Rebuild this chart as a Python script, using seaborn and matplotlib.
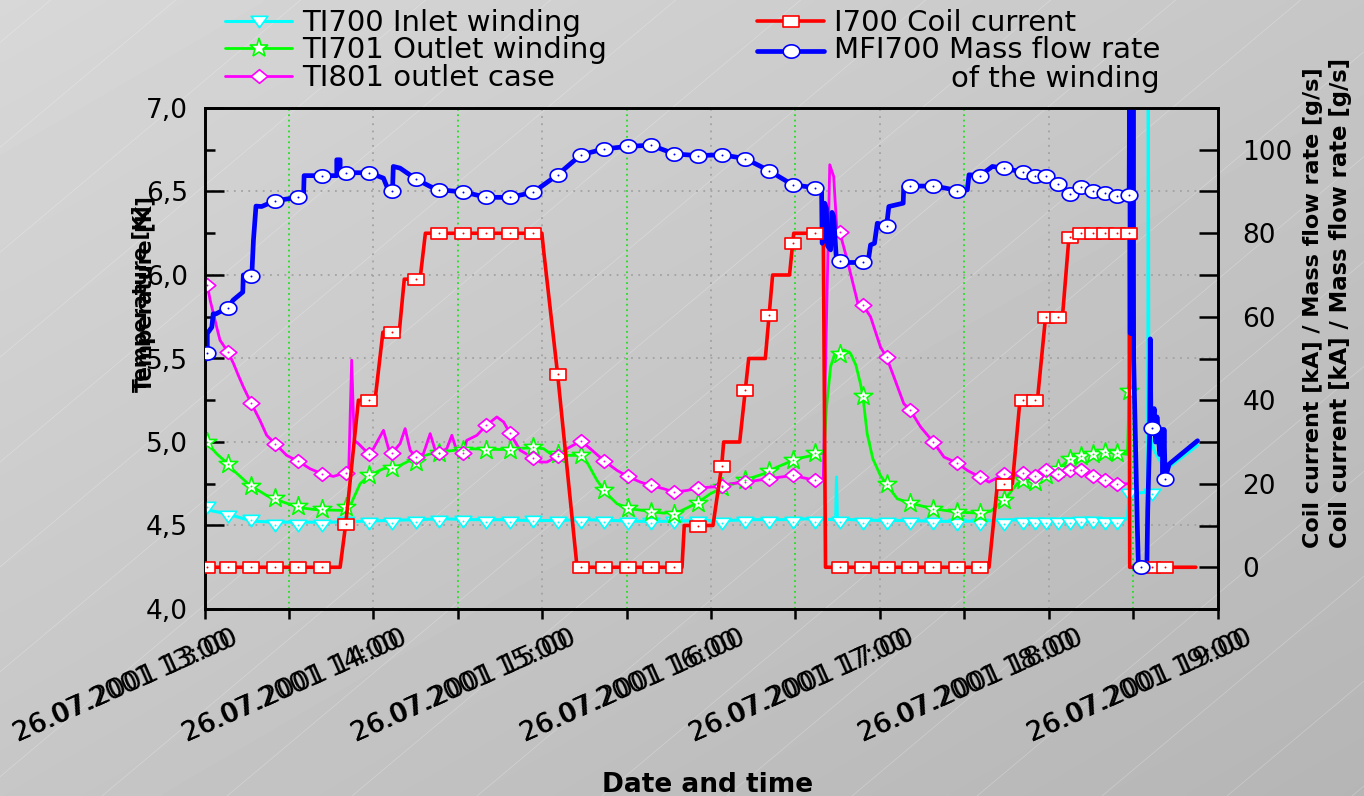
import numpy as np
import matplotlib
matplotlib.use("Agg")
import matplotlib.pyplot as plt
import seaborn as sns
from matplotlib.lines import Line2D
from matplotlib.path import Path
from matplotlib.legend_handler import HandlerLine2D
from matplotlib.transforms import offset_copy

# ---------------------------------------------------------------------------
# Measurements of 26.07.2001, time given in minutes after 13:00
# ---------------------------------------------------------------------------
marker_minutes = [1.0, 8.3, 16.5, 25.1, 33.4, 41.7, 50.2, 58.5, 66.8, 75.1,
                  83.4, 92.0, 100.2, 108.5, 116.8, 125.5, 133.8, 142.1, 150.4, 158.7,
                  167.0, 175.4, 183.8, 192.1, 200.6, 209.0, 217.1, 225.7, 234.0, 242.4,
                  250.7, 259.0, 267.5, 275.6, 284.1, 291.0, 295.0, 299.2, 303.4, 307.6,
                  311.6, 315.8, 320.0, 324.2, 328.6]

# TI700 inlet winding temperature [K]
ti700_line = [(0.2, 4.60), (2.0, 4.59), (5.0, 4.58), (10.0, 4.56), (14.0, 4.54), (18.0, 4.525),
              (25.0, 4.52), (35.0, 4.52), (45.0, 4.52), (55.0, 4.525), (65.0, 4.53), (75.0, 4.535),
              (85.0, 4.54), (95.0, 4.535), (105.0, 4.535), (115.0, 4.53), (125.0, 4.53), (135.0, 4.535),
              (145.0, 4.53), (155.0, 4.525), (165.0, 4.525), (175.0, 4.53), (185.0, 4.53), (195.0, 4.535),
              (205.0, 4.535), (215.0, 4.54), (224.3, 4.535), (224.6, 4.79), (224.9, 4.54), (230.0, 4.535),
              (240.0, 4.53), (250.0, 4.53), (260.0, 4.525), (270.0, 4.525), (280.0, 4.53), (290.0, 4.535),
              (300.0, 4.535), (310.0, 4.54), (320.0, 4.54), (328.0, 4.54), (328.6, 4.69), (335.2, 4.70),
              (335.4, 7.5), (335.6, 5.07), (337.5, 4.95), (341.4, 4.83), (342.8, 4.85), (352.9, 4.98)]
ti700_marks = [4.61, 4.555, 4.53, 4.505, 4.505, 4.505, 4.52, 4.515, 4.515, 4.52,
               4.525, 4.525, 4.52, 4.52, 4.525, 4.52, 4.52, 4.52, 4.515, 4.515,
               4.52, 4.52, 4.515, 4.52, 4.52, 4.52, 4.52, 4.52, 4.515, 4.515,
               4.515, 4.515, 4.51, 4.51, 4.51, 4.515, 4.515, 4.515, 4.515, 4.515,
               4.52, 4.52, 4.515, 4.515, 4.69]
ti700_tail = [(336.9, 4.69)]

# TI701 outlet winding temperature [K]
ti701_line = [(0.2, 5.01), (4.3, 4.93), (8.3, 4.87), (10.3, 4.83), (16.2, 4.74), (22.1, 4.68),
              (28.0, 4.64), (34.0, 4.606), (39.9, 4.594), (50.6, 4.59), (51.8, 4.62), (55.3, 4.75),
              (58.5, 4.80), (63.6, 4.84), (69.5, 4.86), (74.3, 4.90), (81.4, 4.934), (93.2, 4.96),
              (105.0, 4.955), (117.0, 4.966), (120.5, 4.96), (122.9, 4.93), (127.6, 4.92), (133.5, 4.92),
              (135.9, 4.88), (139.5, 4.77), (143.0, 4.69), (146.6, 4.63), (151.3, 4.60), (163.2, 4.574),
              (169.1, 4.586), (175.0, 4.634), (179.8, 4.69), (184.5, 4.73), (191.6, 4.77), (198.8, 4.81),
              (203.5, 4.85), (210.6, 4.90), (218.9, 4.93), (220.1, 4.93), (221.0, 5.20), (222.5, 5.45),
              (224.0, 5.53), (225.7, 5.546), (227.5, 5.55), (229.6, 5.53), (231.5, 5.46), (233.1, 5.35),
              (234.0, 5.27), (235.5, 5.05), (237.5, 4.90), (240.2, 4.80), (242.4, 4.746), (246.2, 4.66),
              (250.7, 4.634), (259.0, 4.60), (267.5, 4.58), (275.6, 4.574), (279.4, 4.586), (284.1, 4.65),
              (288.8, 4.75), (291.0, 4.77), (295.0, 4.76), (299.2, 4.80), (304.3, 4.85), (307.6, 4.90),
              (311.6, 4.914), (315.8, 4.93), (320.0, 4.94), (324.2, 4.934), (328.0, 4.926), (328.6, 5.306),
              (329.0, 7.5)]
ti701_marks = [5.0, 4.87, 4.736, 4.666, 4.614, 4.60, 4.61, 4.80, 4.846, 4.88,
               4.935, 4.955, 4.954, 4.95, 4.97, 4.926, 4.92, 4.714, 4.606, 4.58,
               4.57, 4.634, 4.73, 4.77, 4.826, 4.89, 4.934, 5.526, 5.274, 4.746,
               4.634, 4.60, 4.58, 4.574, 4.65, 4.77, 4.76, 4.80, 4.84, 4.90,
               4.914, 4.93, 4.94, 4.934, 5.306]

# TI801 outlet case temperature [K]
ti801_line = [(0.2, 5.97), (1.0, 5.94), (2.0, 5.85), (4.3, 5.69), (5.5, 5.61), (8.3, 5.54),
              (10.3, 5.47), (12.0, 5.40), (13.8, 5.33), (16.5, 5.236), (19.7, 5.13), (22.1, 5.04),
              (25.1, 4.99), (29.2, 4.92), (33.4, 4.884), (37.5, 4.84), (41.7, 4.81), (45.8, 4.794),
              (50.2, 4.816), (51.2, 4.794), (52.3, 5.49), (53.2, 5.01), (54.7, 4.99), (58.5, 4.926),
              (60.0, 4.96), (63.6, 5.07), (65.4, 4.96), (66.8, 4.936), (69.5, 4.99), (71.3, 5.08),
              (73.1, 4.95), (75.1, 4.91), (77.8, 4.93), (80.2, 5.05), (82.0, 4.95), (83.4, 4.936),
              (86.1, 4.96), (87.9, 5.04), (89.4, 4.96), (92.1, 4.936), (93.2, 5.01), (96.8, 5.04),
              (100.2, 5.10), (103.9, 5.15), (106.3, 5.12), (108.5, 5.054), (112.2, 4.95), (116.8, 4.906),
              (119.3, 4.88), (121.7, 4.88), (125.5, 4.914), (128.8, 4.96), (133.8, 5.006), (137.1, 4.96),
              (142.1, 4.886), (146.6, 4.83), (150.4, 4.794), (154.9, 4.76), (158.7, 4.74), (163.2, 4.72),
              (167.0, 4.70), (171.5, 4.71), (175.4, 4.724), (179.8, 4.73), (183.8, 4.734), (186.9, 4.75),
              (192.1, 4.76), (200.6, 4.78), (209.0, 4.80), (217.1, 4.77), (219.9, 4.77), (220.7, 5.45),
              (222.2, 6.66), (223.6, 6.59), (224.8, 6.25), (225.7, 6.26), (228.4, 6.09), (232.5, 5.81),
              (234.0, 5.82), (236.7, 5.75), (240.2, 5.57), (242.4, 5.506), (245.0, 5.39), (248.5, 5.23),
              (250.7, 5.194), (254.5, 5.09), (259.0, 5.0), (262.8, 4.91), (267.5, 4.874), (271.1, 4.83),
              (275.6, 4.79), (278.8, 4.76), (284.1, 4.806), (286.5, 4.78), (291.0, 4.814), (295.0, 4.794),
              (299.2, 4.83), (303.4, 4.806), (307.6, 4.83), (311.6, 4.83), (315.8, 4.794), (320.0, 4.77),
              (324.2, 4.75), (328.0, 4.75)]
ti801_marks = [5.94, 5.54, 5.236, 4.99, 4.884, 4.81, 4.816, 4.926, 4.936, 4.91,
               4.936, 4.936, 5.10, 5.054, 4.906, 4.914, 5.006, 4.886, 4.794, 4.74,
               4.70, 4.724, 4.734, 4.76, 4.78, 4.80, 4.77, 6.26, 5.82, 5.506,
               5.194, 5.0, 4.874, 4.79, 4.806, 4.814, 4.794, 4.83, 4.806, 4.83,
               4.83, 4.794, 4.77, 4.75, np.nan]

# I700 coil current [kA]
i700_line = [(0.2, 0), (48.2, 0), (50.2, 10.4), (54.7, 40), (60.6, 40), (63.4, 56.3), (69.2, 56.3),
             (71.0, 69), (76.6, 69), (78.5, 80), (119.9, 80), (120.5, 76), (125.5, 46.2), (132.4, 0),
             (169.7, 0), (170.5, 10), (180.7, 10), (183.8, 24.3), (184.5, 30), (190.2, 30), (193.4, 50),
             (199.3, 50), (201.9, 70), (207.9, 70), (209.4, 80), (219.9, 80), (220.7, 0), (278.8, 0),
             (281.8, 20), (287.1, 20), (289.8, 40), (296.0, 40), (298.9, 60), (304.9, 60), (307.2, 79),
             (308.9, 80), (328.6, 80), (328.8, 0), (352.3, 0)]
i700_marks = [0, 0, 0, 0, 0, 0, 10.4, 40, 56.3, 69,
              80, 80, 80, 80, 80, 46.2, 0, 0, 0, 0,
              0, 10, 24.3, 42.5, 60.3, 77.7, 80, 0, 0, 0,
              0, 0, 0, 0, 20, 40, 40, 60, 60, 79,
              80, 80, 80, 80, 80]
i700_tail = [(336.9, 0), (341.3, 0)]

# MFI700 mass flow rate of the winding [g/s]
mfi700_line = [(0.2, 49.5), (1.0, 51.4), (1.0, 56.0), (2.6, 57.5), (3.1, 60.7), (4.1, 60.7), (8.3, 62.2),
               (10.2, 64.0), (13.6, 65.9), (13.8, 70.0), (16.8, 69.8), (17.4, 78.4), (18.3, 86.5),
               (20.3, 86.4), (25.1, 87.8), (33.4, 88.6), (35.2, 88.8), (35.4, 93.8), (41.7, 93.8),
               (47.0, 93.8), (47.0, 97.6), (48.2, 97.6), (48.2, 95.0), (50.2, 94.5), (58.5, 94.5),
               (63.6, 93.2), (64.8, 91.2), (66.8, 90.2), (67.1, 96.0), (69.5, 95.6), (75.1, 93.0),
               (80.2, 91.2), (83.4, 90.4), (92.0, 89.9), (100.2, 88.6), (108.5, 88.6), (116.8, 89.8),
               (125.5, 94.0), (133.8, 98.8), (142.1, 100.2), (150.4, 100.8), (158.7, 101.1), (167.0, 99.0),
               (175.4, 98.6), (183.8, 98.8), (192.1, 97.9), (200.6, 95.0), (209.0, 91.6), (217.1, 90.9),
               (219.3, 90.5), (219.5, 77.6), (220.0, 79.0), (220.4, 87.2), (221.0, 86.0), (221.4, 77.0),
               (222.5, 76.0), (223.0, 85.0), (223.6, 84.0), (224.5, 74.4), (225.7, 73.3), (229.2, 73.0),
               (234.0, 73.0), (236.1, 74.4), (236.7, 77.2), (238.1, 77.6), (239.1, 82.4), (242.4, 81.8),
               (243.2, 86.4), (248.3, 87.2), (248.5, 91.2), (250.7, 91.3), (259.0, 91.3), (263.4, 90.8),
               (267.5, 90.2), (271.1, 90.4), (271.7, 94.0), (275.6, 93.8), (280.0, 96.0), (284.1, 95.6),
               (291.0, 94.6), (295.0, 93.6), (299.2, 93.6), (303.4, 91.8), (307.6, 89.4), (311.6, 91.0),
               (315.8, 90.2), (320.0, 89.6), (324.2, 89.0), (328.6, 89.1), (328.8, 125), (329.0, 56),
               (329.2, 125), (329.4, 56), (329.6, 125), (329.8, 56), (330.0, 125), (330.2, 50),
               (331.5, 10), (331.9, 0), (332.7, 0), (334.9, 0), (335.2, 13.5), (335.9, 31.9),
               (336.1, 54.7), (336.3, 37.5), (336.9, 33.3), (337.5, 38.0), (338.0, 30.0), (338.5, 36.0),
               (339.5, 27.0), (340.2, 33.0), (340.6, 22.0), (341.0, 33.0), (341.4, 21.1), (342.8, 24.7),
               (352.9, 30.3)]
mfi700_marks = [51.4, 62.2, 69.8, 87.8, 88.6, 93.8, 94.5, 94.5, 90.2, 93.0,
                90.4, 89.9, 88.6, 88.6, 89.8, 94.0, 98.8, 100.2, 100.8, 101.1,
                99.0, 98.6, 98.8, 97.9, 95.0, 91.6, 90.9, 73.3, 73.0, 81.8,
                91.3, 91.3, 90.2, 93.8, 95.6, 94.6, 93.6, 93.6, 91.8, 89.4,
                91.0, 90.2, 89.6, 89.0, 89.1]
mfi700_tail = [(332.7, 0), (336.9, 33.3), (341.4, 21.1)]

hour_ticks = [13, 14, 15, 16, 17, 18, 19]
half_hour_ticks = [13.5, 14.5, 15.5, 16.5, 17.5, 18.5]
date_text = "26.07.2001"
temp_ticks = [4.0, 4.5, 5.0, 5.5, 6.0, 6.5, 7.0]
temp_tick_labels = ["4,0", "4,5", "5,0", "5,5", "6,0", "6,5", "7,0"]
temp_minor = [4.25, 4.75, 5.25, 5.75, 6.25, 6.75]
flow_ticks = [0, 20, 40, 60, 80, 100]
flow_minor = [-10, 10, 30, 50, 70, 90, 110]

labels = ["TI700 Inlet winding", "TI701 Outlet winding", "TI801 outlet case",
          "I700 Coil current", "MFI700 Mass flow rate\nof the winding"]
colors = ["#00ffff", "#00ff00", "#ff00ff", "#ff0000", "#0000ff"]


def hours(minutes):
    return 13 + np.asarray(minutes, dtype=float) / 60.0


def unzip(points):
    t, v = zip(*points)
    return hours(t), np.asarray(v, dtype=float)


# marker shapes (slightly wide, as in the original plot software)
_a = np.linspace(0, 2 * np.pi, 41)
m_ellipse = Path(np.column_stack([np.cos(_a), 0.8 * np.sin(_a)]), closed=True)
m_rect = Path([(-1, -0.72), (1, -0.72), (1, 0.72), (-1, 0.72), (-1, -0.72)], closed=True)
m_diamond = Path([(0, -0.82), (1, 0), (0, 0.82), (-1, 0), (0, -0.82)], closed=True)
m_tri = Path([(-1, 0.62), (1, 0.62), (0, -0.75), (-1, 0.62)], closed=True)

# ---------------------------------------------------------------------------
sns.set_theme(style="white")
plt.rcParams["font.family"] = ["DejaVu Sans"]
plt.rcParams["axes.unicode_minus"] = False
plt.rcParams["text.color"] = "black"

W, H, DPI = 1364, 796, 100
fig = plt.figure(figsize=(W / DPI, H / DPI), dpi=DPI)
fig.patch.set_facecolor("#c8c8c8")

# shaded backdrop with faint diagonal hatching
bg = fig.add_axes([0, 0, 1, 1], zorder=0)
gy, gx = np.mgrid[0:1:200j, 0:1:342j]
bg.imshow(0.845 - 0.135 * (gx + gy) / 2, cmap="gray", vmin=0, vmax=1,
          extent=(0, 1, 0, 1), aspect="auto", interpolation="bilinear")
slope = np.tan(np.radians(40)) * W / H
for c in np.arange(-0.75, 1.0, 125 / W):
    bg.plot([c, c + 1.0], [0, slope], color="white", lw=0.5, alpha=0.28)
bg.set_xlim(0, 1)
bg.set_ylim(0, 1)
bg.axis("off")

ax = fig.add_axes([204.5 / W, 1 - 609 / H, 1013 / W, 501 / H], zorder=1)
ax.set_facecolor("none")
ax2 = ax.twinx()
ax2.set_zorder(2)
ax2.patch.set_visible(False)


def draw(axis, line, marks, tail, color, lw, marker, ms):
    lx, ly = unzip(line)
    sns.lineplot(x=lx, y=ly, ax=axis, color=color, linewidth=lw, sort=False,
                 estimator=None, legend=False, zorder=2)
    mt = list(marker_minutes) + [p[0] for p in tail]
    mv = list(marks) + [p[1] for p in tail]
    mx, my = hours(mt), np.asarray(mv, dtype=float)
    sns.scatterplot(x=mx, y=my, ax=axis, marker=marker, s=ms ** 2, color="white",
                    edgecolor=color, linewidth=1.2, legend=False, zorder=3)
    sns.scatterplot(x=mx, y=my, ax=axis, marker="o", s=2.0, color=color,
                    linewidth=0, legend=False, zorder=4)


draw(ax, ti700_line, ti700_marks, ti700_tail, colors[0], 2.2, m_tri, 12)
draw(ax, ti701_line, ti701_marks, [], colors[1], 2.0, "*", 14)
draw(ax, ti801_line, ti801_marks, [], colors[2], 2.0, m_diamond, 12)
draw(ax2, i700_line, i700_marks, i700_tail, colors[3], 2.6, m_rect, 11)
draw(ax2, mfi700_line, mfi700_marks, mfi700_tail, colors[4], 3.4, m_ellipse, 12)

# axes ranges and ticks
ax.set_xlim(13, 19)
ax.set_ylim(4.0, 7.0)
ax2.set_ylim(-10, 110)

ax.set_xticks(hour_ticks)
ax.set_xticks(half_hour_ticks, minor=True)
ax.set_xticklabels([])
ax.set_yticks(temp_ticks)
ax.set_yticklabels(temp_tick_labels)
ax.set_yticks(temp_minor, minor=True)
ax2.set_yticks(flow_ticks)
ax2.set_yticklabels([str(v) for v in flow_ticks])
ax2.set_yticks(flow_minor, minor=True)

ax.tick_params(axis="x", which="both", bottom=True, top=False, direction="out",
               length=7, width=1.8, color="black", labelbottom=False)
ax.tick_params(axis="y", which="major", left=True, right=False, direction="in",
               length=14, width=1.8, color="black", labelsize=19, pad=12,
               labelcolor="black")
ax.tick_params(axis="y", which="minor", left=True, right=False, direction="in",
               length=7, width=1.8, color="black")
ax2.tick_params(axis="y", which="both", left=False, right=True, direction="in",
                length=14, width=1.8, color="black", labelsize=19, pad=18,
                labelcolor="black")

for a in (ax, ax2):
    for sp in a.spines.values():
        sp.set_color("black")
        sp.set_linewidth(1.9)
        sp.set_visible(True)

# dotted grid: grey on full hours and temperature steps, green on half hours
ax.set_axisbelow(True)
ax.yaxis.grid(True, which="major", color="#a2a2a2", linestyle=(0, (1, 3)), linewidth=1.3)
ax.xaxis.grid(True, which="major", color="#a2a2a2", linestyle=(0, (1, 3)), linewidth=1.3)
ax.xaxis.grid(True, which="minor", color="#22e022", linestyle=(0, (1, 2)), linewidth=1.3)

# rotated date/time labels below the axis (drawn twice, slightly different size)
base = ax.get_xaxis_transform()
shifted = offset_copy(base, fig=fig, x=-186, y=-133, units="dots")
for h in hour_ticks:
    txt = f"{date_text} {h}:00"
    for size in (19.0, 19.6):
        ax.text(h, 0, txt, transform=shifted, rotation=24, rotation_mode="anchor",
                ha="left", va="baseline", fontsize=size, color="black", clip_on=False)

ax.set_xlabel("Date and time", fontsize=19, fontweight="bold", color="black")
ax.xaxis.set_label_coords(0.497, -0.325)

# axis titles (each with a slightly larger twin)
left_title = "Temperature [K]"
ax.set_ylabel(left_title, fontsize=14.5, fontweight="bold", color="black",
              ha="left", va="center", rotation_mode="anchor")
ax.yaxis.set_label_coords(-0.0617, 0.433)
ax.text(-0.0617 + 4 / 1013, 0.433, left_title, transform=ax.transAxes, rotation=90,
        rotation_mode="anchor", ha="left", va="center", fontsize=15.3,
        fontweight="bold", color="black")

right_title = "Coil current [kA] / Mass flow rate [g/s]"
ax2.set_ylabel(right_title, fontsize=16, fontweight="bold", color="black",
               ha="left", va="center", rotation_mode="anchor")
ax2.yaxis.set_label_coords((1313 - 204.5) / 1013, (609 - 548) / 501)
ax2.text((1340 - 204.5) / 1013, (609 - 548) / 501, right_title, transform=ax2.transAxes,
         rotation=90, rotation_mode="anchor", ha="left", va="center", fontsize=16.4,
         fontweight="bold", color="black")


# legends
class RaisedLine(HandlerLine2D):
    def __init__(self, dy, **kw):
        super().__init__(**kw)
        self.dy = dy

    def create_artists(self, legend, orig_handle, xdescent, ydescent, width, height,
                       fontsize, trans):
        arts = super().create_artists(legend, orig_handle, xdescent, ydescent, width,
                                      height, fontsize, trans)
        for a in arts:
            a.set_ydata(np.asarray(a.get_ydata(), dtype=float) + self.dy)
        return arts


def handle(color, lw, marker, ms):
    return Line2D([], [], color=color, lw=lw, marker=marker, markersize=ms,
                  markerfacecolor="white", markeredgecolor=color, markeredgewidth=1.2)


h_temp = [handle(colors[0], 2.2, m_tri, 12), handle(colors[1], 2.0, "*", 14),
          handle(colors[2], 2.0, m_diamond, 12)]
h_flow = [handle(colors[3], 2.6, m_rect, 11), handle(colors[4], 3.4, m_ellipse, 12)]

leg_kw = dict(loc="upper left", frameon=False, fontsize=21, handlelength=2.3,
              handletextpad=0.33, borderpad=0, borderaxespad=0, labelspacing=-0.02,
              numpoints=1)
leg1 = fig.legend(h_temp, labels[:3], bbox_to_anchor=(225 / W, 1 - 9 / H), **leg_kw)
leg2 = fig.legend(h_flow, labels[3:], bbox_to_anchor=(757 / W, 1 - 9 / H),
                  handler_map={h_flow[1]: RaisedLine(10.8)}, **leg_kw)
for t in list(leg1.get_texts()) + list(leg2.get_texts()):
    t.set_color("black")
leg2.get_texts()[1].set_multialignment("right")
leg2.get_texts()[1].set_linespacing(1.03)

fig.savefig("out.png", dpi=DPI)
